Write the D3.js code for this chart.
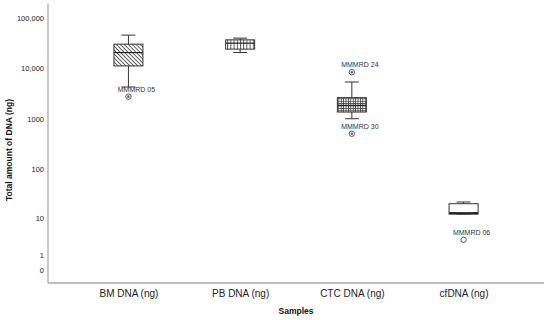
<!DOCTYPE html>
<html>
<head>
<meta charset="utf-8">
<script src="https://cdn.jsdelivr.net/npm/d3@7"></script>
<style>
    body { margin: 0; background: #fff; }
    svg { display: block; font-family: "Liberation Sans", Arial, sans-serif; }
</style>
</head>
<body>
<script>
const categories = ["BM DNA (ng)", "PB DNA (ng)", "CTC DNA (ng)", "cfDNA (ng)"];
const whiskerLow = [4300, 20800, 1010, 12];
const q1 = [11250, 24200, 1370, 12];
const medians = [20700, 31800, 1860, 12.6];
const q3 = [30400, 37000, 2645, 19.9];
const whiskerHigh = [45900, 40000, 5400, 21.6];
const patterns = ["hatch", "vstripe", "grid", "none"];

const outlierCats = ["BM DNA (ng)", "CTC DNA (ng)", "CTC DNA (ng)", "cfDNA (ng)"];
const outlierValues = [2765, 8430, 508, 3.02];
const outlierLabels = ["MMMRD 05", "MMMRD 24", "MMMRD 30", "MMMRD 06"];
const outlierFilled = [true, true, true, false];

const tickValues = [0, 1, 10, 100, 1000, 10000, 100000];
const tickLabels = ["0", "1", "10", "100", "1000", "10,000", "100,000"];

const width = 550, height = 320;
const axisLeft = 48, axisRight = 544, axisBottom = 283, axisTop = 4;

const svg = d3.select("body").append("svg")
    .attr("width", width)
    .attr("height", height);

// ----- patterns -----
const defs = svg.append("defs");
const hatch = defs.append("pattern")
    .attr("id", "hatch")
    .attr("patternUnits", "userSpaceOnUse")
    .attr("width", 2.8).attr("height", 2.8)
    .attr("patternTransform", "rotate(-45)");
hatch.append("rect").attr("width", 2.8).attr("height", 2.8).attr("fill", "#fff");
hatch.append("line").attr("x1", 0).attr("y1", 0).attr("x2", 0).attr("y2", 2.8)
    .attr("stroke", "#333").attr("stroke-width", 1.5);

const vstripe = defs.append("pattern")
    .attr("id", "vstripe")
    .attr("patternUnits", "userSpaceOnUse")
    .attr("width", 3.2).attr("height", 4.5);
vstripe.append("rect").attr("width", 3.2).attr("height", 4.5).attr("fill", "#fff");
vstripe.append("line").attr("x1", 0.5).attr("y1", 0).attr("x2", 0.5).attr("y2", 4.5)
    .attr("stroke", "#444").attr("stroke-width", 0.9);

const grid = defs.append("pattern")
    .attr("id", "grid")
    .attr("patternUnits", "userSpaceOnUse")
    .attr("width", 2.4).attr("height", 2.4);
grid.append("rect").attr("width", 2.4).attr("height", 2.4).attr("fill", "#fff");
grid.append("path").attr("d", "M0.4,0V2.4M0,0.4H2.4")
    .attr("stroke", "#444").attr("stroke-width", 0.8);

// ----- scales -----
const x = d3.scalePoint()
    .domain(categories)
    .range([axisLeft, axisRight])
    .padding(0.72);

const y = d3.scaleSymlog()
    .constant(1)
    .domain([-0.785, 190000])
    .range([axisBottom, axisTop]);

// ----- axes -----
const yAxis = d3.axisLeft(y)
    .tickValues(tickValues)
    .tickFormat((d, i) => tickLabels[i])
    .tickSize(0)
    .tickPadding(4);
const gy = svg.append("g")
    .attr("transform", `translate(${axisLeft},0)`)
    .call(yAxis);
gy.select(".domain").remove();
gy.selectAll("text")
    .style("font-size", "7.5px")
    .attr("fill", "#222");

svg.append("line")
    .attr("x1", axisLeft).attr("x2", axisLeft)
    .attr("y1", axisTop).attr("y2", axisBottom)
    .attr("stroke", "#aaa").attr("stroke-width", 1.3);

const xAxis = d3.axisBottom(x).tickSize(0).tickPadding(7);
const gx = svg.append("g")
    .attr("transform", `translate(0,${axisBottom})`)
    .call(xAxis);
gx.select(".domain").remove();
gx.selectAll("text")
    .style("font-size", "10px")
    .attr("fill", "#222");

svg.append("line")
    .attr("x1", axisLeft).attr("x2", axisRight)
    .attr("y1", axisBottom).attr("y2", axisBottom)
    .attr("stroke", "#aaa").attr("stroke-width", 1.3);

// titles
svg.append("text")
    .text("Samples")
    .attr("x", 296).attr("y", 314)
    .attr("text-anchor", "middle")
    .style("font-size", "8.5px")
    .style("font-weight", "bold")
    .attr("fill", "#111");

svg.append("text")
    .text("Total amount of DNA (ng)")
    .attr("transform", `translate(12,150) rotate(-90)`)
    .attr("text-anchor", "middle")
    .style("font-size", "8.5px")
    .style("font-weight", "bold")
    .attr("fill", "#111");

// ----- boxes -----
const boxW = 29, capW = 14;
const boxes = svg.selectAll("g.box")
    .data(categories)
    .enter()
    .append("g")
        .attr("class", "box");

const stroke = "#333";
boxes.append("line")
    .attr("x1", d => x(d)).attr("x2", d => x(d))
    .attr("y1", (d, i) => y(whiskerHigh[i]))
    .attr("y2", (d, i) => y(whiskerLow[i]))
    .attr("stroke", stroke).attr("stroke-width", 1);
boxes.append("line")
    .attr("x1", d => x(d) - capW / 2).attr("x2", d => x(d) + capW / 2)
    .attr("y1", (d, i) => y(whiskerHigh[i])).attr("y2", (d, i) => y(whiskerHigh[i]))
    .attr("stroke", stroke).attr("stroke-width", 1);
boxes.append("line")
    .attr("x1", d => x(d) - capW / 2).attr("x2", d => x(d) + capW / 2)
    .attr("y1", (d, i) => y(whiskerLow[i])).attr("y2", (d, i) => y(whiskerLow[i]))
    .attr("stroke", stroke).attr("stroke-width", 1);
boxes.append("rect")
    .attr("x", d => x(d) - boxW / 2)
    .attr("width", boxW)
    .attr("y", (d, i) => y(q3[i]))
    .attr("height", (d, i) => y(q1[i]) - y(q3[i]))
    .attr("fill", (d, i) => patterns[i] === "none" ? "#fff" : `url(#${patterns[i]})`)
    .attr("stroke", stroke).attr("stroke-width", 1);
boxes.append("line")
    .attr("x1", d => x(d) - boxW / 2).attr("x2", d => x(d) + boxW / 2)
    .attr("y1", (d, i) => y(medians[i])).attr("y2", (d, i) => y(medians[i]))
    .attr("stroke", "#222")
    .attr("stroke-width", (d, i) => patterns[i] === "none" ? 2 : 1.2);

// ----- outliers -----
const outliers = svg.selectAll("g.outlier")
    .data(outlierValues)
    .enter()
    .append("g")
        .attr("class", "outlier")
        .attr("transform", (d, i) => `translate(${x(outlierCats[i])},${y(d)})`);
outliers.append("circle")
    .attr("r", 2.7)
    .attr("fill", "#fff")
    .attr("stroke", "#444").attr("stroke-width", 0.9);
outliers.filter((d, i) => outlierFilled[i])
    .append("circle")
    .attr("r", 1.3)
    .attr("fill", "#666");
outliers.append("text")
    .text((d, i) => outlierLabels[i])
    .attr("x", 8).attr("y", -5)
    .attr("text-anchor", "middle")
    .style("font-size", "7px")
    .attr("fill", "#333");
</script>
</body>
</html>
